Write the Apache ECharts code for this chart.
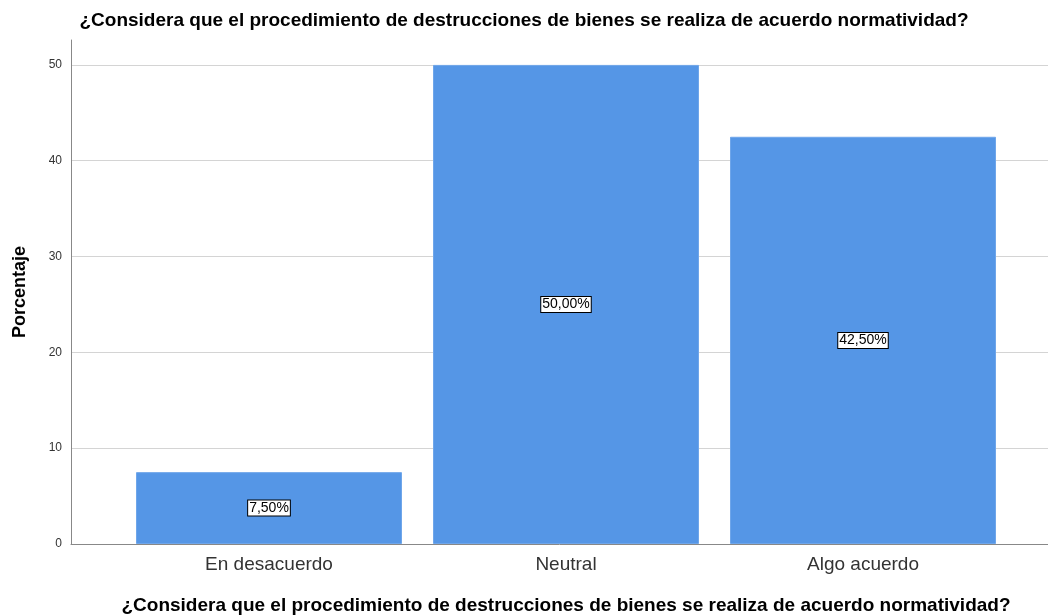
<!DOCTYPE html>
<html>
<head>
<meta charset="utf-8">
<script src="https://cdn.jsdelivr.net/npm/echarts@6/dist/echarts.min.js"></script>
<style>
html, body { margin: 0; padding: 0; background: #fff; }
#main { width: 1048px; height: 616px; }
</style>
</head>
<body>
<div id="main"></div>
<script>
// datos del gráfico
var categorias = ['En desacuerdo', 'Neutral', 'Algo acuerdo'];
var porcentajes = [7.5, 50.0, 42.5];
var pregunta = '¿Considera que el procedimiento de destrucciones de bienes se realiza de acuerdo normatividad?';

var fuente = '"Liberation Sans", Arial, sans-serif';
var yMax = 52.6;

var myChart = echarts.init(document.getElementById('main'));
var option = {
    animation: false,
    textStyle: { fontFamily: fuente },
    title: {
        text: pregunta,
        left: 'center',
        top: 6,
        textStyle: { fontSize: 19, fontWeight: 'bold', color: '#000', fontFamily: fuente }
    },
    // grid 0: ejes y lineas de fondo, grid 1: barras
    grid: [
        { left: 71, right: 0, top: 40, bottom: 72, outerBoundsMode: 'none', containLabel: false },
        { left: 120.5, right: 36.5, top: 40, bottom: 72, outerBoundsMode: 'none', containLabel: false }
    ],
    xAxis: [{
        gridIndex: 0,
        type: 'value',
        min: 0,
        max: 1,
        axisLine: { show: true, lineStyle: { color: '#888', width: 1 } },
        axisTick: { show: false },
        axisLabel: { show: false },
        splitLine: { show: false }
    }, {
        gridIndex: 1,
        type: 'category',
        data: categorias,
        axisLine: { show: false },
        axisTick: { show: false },
        axisLabel: { fontSize: 19, color: '#333', margin: 11 },
        name: pregunta,
        nameLocation: 'middle',
        nameGap: 52,
        nameTextStyle: { fontSize: 19, fontWeight: 'bold', color: '#000' }
    }],
    yAxis: [{
        gridIndex: 0,
        type: 'value',
        min: 0,
        max: yMax,
        interval: 10,
        name: 'Porcentaje',
        nameLocation: 'middle',
        nameRotate: 90,
        nameGap: 42,
        nameTextStyle: { fontSize: 18, fontWeight: 'bold', color: '#000' },
        axisLine: { show: true, lineStyle: { color: '#888', width: 1 } },
        axisTick: { show: false },
        axisLabel: {
            fontSize: 12,
            color: '#333',
            margin: 9,
            formatter: function (v) { return v % 10 === 0 ? v : ''; }
        },
        splitLine: {
            show: true,
            showMinLine: false,
            showMaxLine: false,
            lineStyle: { color: '#d4d4d4', width: 1 }
        }
    }, {
        gridIndex: 1,
        type: 'value',
        min: 0,
        max: yMax,
        show: false,
        splitLine: { show: false }
    }],
    series: [{
        type: 'bar',
        xAxisIndex: 1,
        yAxisIndex: 1,
        data: porcentajes,
        barWidth: 266,
        itemStyle: { color: '#5596e6', borderColor: '#6fa6ea', borderWidth: 1 },
        label: {
            show: true,
            position: 'inside',
            formatter: function (p) { return p.value.toFixed(2).replace('.', ',') + '%'; },
            fontSize: 14,
            color: '#000',
            backgroundColor: '#fff',
            borderColor: '#000',
            borderWidth: 1,
            padding: [1, 1, 0, 1]
        }
    }]
};
myChart.setOption(option);
</script>
</body>
</html>
